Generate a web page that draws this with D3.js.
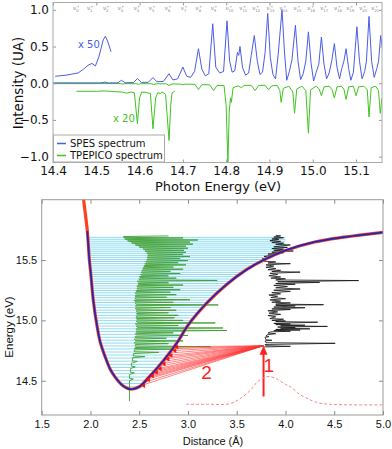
<!DOCTYPE html>
<html lang="en">
<head>
<meta charset="UTF-8">
<title>SPES / TPEPICO and potential curve</title>
<script src="https://d3js.org/d3.v7.min.js"></script>
<style>
  body { margin: 0; background: #fff; }
  svg { display: block; }
</style>
</head>
<body>
<svg id="chart" width="392" height="449"></svg>
<script>
// ---------- top panel data (photon energy eV, intensity UA) ----------
const nuLabels = ["0","1","2","3","4","5","6","7","8","9","10","11","12","13","14","15","16","17","18","19","20","21"];
const nuEnergy = [14.451,14.483,14.520,14.554,14.591,14.626,14.663,14.700,14.734,14.769,14.803,14.835,14.865,14.898,14.928,14.960,14.992,15.022,15.054,15.082,15.112,15.140];
const xTicksTop = [14.4,14.5,14.6,14.7,14.8,14.9,15.0,15.1];
const yTicksTop = [-1.0,-0.5,0.0,0.5,1.0];

// SPES x 50 segment
const spesScaled = [[14.405,0.095],[14.430,0.110],[14.458,0.140],[14.470,0.190],[14.481,0.245],[14.490,0.270],[14.498,0.235],[14.506,0.360],[14.516,0.590],[14.521,0.640],[14.527,0.560],[14.534,0.430]];
// SPES spectrum
const spesMain = [[14.400,0.005],[14.510,0.005],[14.520,0.015],[14.528,0.004],[14.550,0.006],[14.558,0.040],[14.567,0.006],[14.586,0.010],[14.595,0.064],[14.604,0.012],[14.620,0.012],[14.631,0.077],[14.640,0.020],[14.655,0.025],[14.668,0.130],[14.677,0.045],[14.688,0.060],[14.700,0.220],[14.709,0.095],[14.718,0.080],[14.727,0.160],[14.736,0.470],[14.744,0.190],[14.752,0.100],[14.760,0.130],[14.769,0.810],[14.776,0.220],[14.785,0.140],[14.794,0.160],[14.802,0.850],[14.808,0.300],[14.814,0.150],[14.820,0.170],[14.826,0.420],[14.829,0.380],[14.832,0.500],[14.838,0.210],[14.845,0.110],[14.852,0.140],[14.858,0.380],[14.865,0.650],[14.872,0.300],[14.878,0.120],[14.884,0.150],[14.890,0.420],[14.896,0.950],[14.902,0.350],[14.908,0.120],[14.914,0.060],[14.920,0.380],[14.929,1.000],[14.935,0.400],[14.940,0.040],[14.946,0.160],[14.952,0.320],[14.960,0.790],[14.966,0.300],[14.972,0.050],[14.978,0.130],[14.984,0.300],[14.990,0.700],[14.996,0.280],[15.002,0.030],[15.008,0.150],[15.014,0.260],[15.020,0.630],[15.026,0.260],[15.032,0.060],[15.038,0.140],[15.044,0.310],[15.050,0.540],[15.056,0.220],[15.062,0.060],[15.067,0.200],[15.072,0.300],[15.077,0.470],[15.083,0.200],[15.088,0.040],[15.094,0.150],[15.102,0.770],[15.108,0.300],[15.114,0.060],[15.120,0.160],[15.124,0.300],[15.130,0.910],[15.136,0.300],[15.142,0.080],[15.148,0.200],[15.152,0.300],[15.157,0.650],[15.160,0.500]];
// TPEPICO spectrum (plotted negative)
const tpeMain = [[14.400,-0.005],[14.555,-0.005],[14.560,-0.012],[14.566,-0.005],[14.592,-0.006],[14.597,-0.015],[14.603,-0.006],[14.627,-0.007],[14.633,-0.018],[14.640,-0.007],[14.662,-0.008],[14.668,-0.030],[14.675,-0.010],[14.695,-0.012],[14.700,-0.020],[14.706,-0.012],[14.728,-0.015],[14.736,-0.085],[14.744,-0.020],[14.762,-0.022],[14.771,-0.100],[14.779,-0.030],[14.795,-0.030],[14.800,-0.300],[14.804,-1.090],[14.807,-0.400],[14.810,-0.200],[14.812,-0.260],[14.816,-0.060],[14.828,-0.035],[14.835,-0.060],[14.842,-0.030],[14.858,-0.030],[14.867,-0.100],[14.875,-0.030],[14.890,-0.028],[14.898,-0.090],[14.905,-0.035],[14.918,-0.030],[14.924,-0.100],[14.927,-0.260],[14.932,-0.070],[14.945,-0.040],[14.954,-0.120],[14.958,-0.410],[14.963,-0.080],[14.975,-0.040],[14.984,-0.100],[14.990,-0.680],[14.995,-0.090],[15.008,-0.040],[15.015,-0.080],[15.020,-0.170],[15.026,-0.050],[15.038,-0.040],[15.045,-0.090],[15.050,-0.200],[15.056,-0.050],[15.066,-0.040],[15.072,-0.080],[15.077,-0.220],[15.083,-0.050],[15.094,-0.040],[15.100,-0.170],[15.106,-0.050],[15.118,-0.040],[15.126,-0.090],[15.130,-0.460],[15.135,-0.060],[15.145,-0.040],[15.152,-0.100],[15.156,-0.410],[15.160,-0.200]];
// TPEPICO x 20 segment
const tpeScaled = [[14.454,-0.110],[14.500,-0.110],[14.520,-0.105],[14.545,-0.115],[14.560,-0.120],[14.570,-0.135],[14.580,-0.120],[14.588,-0.130],[14.595,-0.550],[14.600,-0.200],[14.605,-0.120],[14.615,-0.125],[14.625,-0.140],[14.631,-0.620],[14.637,-0.200],[14.642,-0.130],[14.648,-0.140],[14.652,-0.120],[14.660,-0.150],[14.668,-0.780],[14.672,-0.300],[14.675,-0.130],[14.678,-0.120],[14.681,-0.110]];

// ---------- bottom panel data (distance A, energy eV) ----------
const xTicksBot = [1.5,2.0,2.5,3.0,3.5,4.0,4.5,5.0];
const yTicksBot = [14.5,15.0,15.5];
const potential = [[1.927,16.02],[1.945,15.90],[1.968,15.74],[1.989,15.50],[2.003,15.39],[2.030,15.16],[2.065,14.965],[2.100,14.82],[2.150,14.70],[2.200,14.60],[2.253,14.53],[2.330,14.46],[2.406,14.43],[2.500,14.45],[2.600,14.53],[2.700,14.62],[2.800,14.72],[2.900,14.83],[3.000,14.96],[3.200,15.15],[3.400,15.30],[3.600,15.42],[3.800,15.51],[4.000,15.58],[4.300,15.65],[4.600,15.69],[5.000,15.73]];
const levels = [14.450,14.477,14.504,14.531,14.558,14.584,14.610,14.636,14.662,14.688,14.713,14.738,14.763,14.788,14.812,14.836,14.860,14.884,14.907,14.930,14.953,14.976,14.998,15.020,15.042,15.064,15.085,15.106,15.127,15.148,15.168,15.188,15.208,15.228,15.248,15.267,15.286,15.305,15.324,15.343,15.362,15.380,15.398,15.416,15.434,15.452,15.470,15.488,15.505,15.522,15.539,15.556,15.573,15.590,15.607,15.624,15.640,15.656,15.672,15.688];
// green spectrum drawn sideways: [energy, distance]
const greenSide = [[14.33,2.40],[14.50,2.40],[14.515,2.44],[14.52,2.40],[14.55,2.40],[14.565,2.45],[14.57,2.41],[14.60,2.41],[14.615,2.46],[14.62,2.42],[14.645,2.42],[14.66,2.48],[14.665,2.43],[14.69,2.43],[14.70,2.56],[14.705,2.44],[14.725,2.44],[14.735,2.70],[14.74,2.45],[14.755,2.45],[14.762,2.85],[14.767,2.45],[14.775,2.46],[14.782,3.23],[14.787,2.46],[14.80,2.46],[14.807,2.80],[14.812,2.45],[14.822,2.46],[14.83,2.95],[14.835,2.46],[14.845,2.45],[14.852,2.78],[14.857,2.46],[14.868,2.46],[14.875,3.00],[14.88,2.47],[14.89,2.46],[14.897,2.85],[14.902,2.47],[14.91,2.47],[14.916,3.40],[14.921,2.47],[14.93,2.47],[14.937,3.36],[14.942,2.48],[14.952,2.47],[14.958,2.90],[14.963,2.47],[14.972,2.46],[14.979,3.28],[14.984,2.48],[14.994,2.47],[15.0,2.95],[15.005,2.48],[15.015,2.47],[15.021,2.86],[15.026,2.47],[15.036,2.47],[15.042,2.90],[15.047,2.48],[15.057,2.47],[15.063,2.80],[15.068,2.48],[15.078,2.47],[15.084,2.88],[15.089,2.47],[15.10,2.46],[15.106,2.82],[15.111,2.47],[15.122,2.46],[15.128,3.31],[15.133,2.47],[15.144,2.46],[15.15,2.85],[15.155,2.46],[15.165,2.45],[15.171,3.02],[15.176,2.46],[15.186,2.46],[15.192,2.78],[15.197,2.46],[15.207,2.46],[15.213,2.88],[15.218,2.47],[15.228,2.46],[15.234,2.82],[15.239,2.47],[15.248,2.47],[15.254,2.92],[15.259,2.48],[15.268,2.48],[15.274,2.85],[15.279,2.48],[15.287,2.48],[15.293,2.95],[15.298,2.49],[15.306,2.49],[15.312,2.80],[15.317,2.49],[15.325,2.48],[15.331,3.30],[15.336,2.50],[15.344,2.50],[15.35,2.88],[15.355,2.51],[15.363,2.50],[15.369,2.80],[15.374,2.52],[15.382,2.51],[15.388,2.92],[15.393,2.53],[15.40,2.52],[15.406,2.82],[15.411,2.53],[15.418,2.53],[15.424,2.95],[15.429,2.54],[15.436,2.54],[15.442,2.85],[15.447,2.55],[15.454,2.55],[15.46,2.98],[15.465,2.56],[15.472,2.56],[15.478,2.90],[15.483,2.57],[15.49,2.57],[15.496,3.00],[15.501,2.58],[15.507,2.58],[15.513,2.92],[15.518,2.59],[15.524,2.58],[15.53,3.02],[15.535,2.59],[15.541,2.59],[15.547,2.95],[15.552,2.58],[15.558,2.58],[15.564,2.98],[15.569,2.57],[15.575,2.56],[15.581,2.96],[15.586,2.55],[15.592,2.54],[15.598,3.00],[15.603,2.52],[15.609,2.50],[15.615,2.98],[15.62,2.48],[15.626,2.46],[15.632,3.05],[15.637,2.44],[15.643,2.42],[15.649,3.02],[15.654,2.40],[15.66,2.38],[15.666,3.10],[15.671,2.36],[15.677,2.35],[15.683,2.95],[15.688,2.34],[15.695,2.34],[15.70,2.80]];
// black spectrum drawn sideways: [energy, distance]
const blackSide = [[14.78,3.78],[14.785,4.05],[14.79,3.80],[14.80,3.79],[14.81,4.51],[14.815,3.80],[14.83,3.79],[14.835,3.86],[14.84,3.80],[14.86,3.79],[14.865,3.83],[14.87,3.80],[14.88,3.81],[14.89,3.90],[14.895,3.82],[14.905,3.85],[14.91,4.05],[14.915,3.88],[14.92,4.15],[14.925,3.90],[14.93,4.25],[14.935,3.95],[14.94,4.10],[14.945,3.92],[14.95,4.43],[14.955,3.95],[14.96,4.20],[14.965,3.90],[14.97,4.05],[14.975,3.88],[14.985,4.33],[14.99,3.90],[14.995,4.00],[15.00,3.86],[15.01,3.98],[15.015,3.84],[15.03,3.90],[15.04,3.82],[15.05,3.95],[15.06,3.83],[15.07,3.92],[15.08,3.82],[15.09,4.05],[15.095,3.86],[15.105,4.20],[15.11,3.88],[15.12,4.10],[15.125,3.90],[15.13,4.39],[15.135,3.90],[15.145,4.05],[15.15,3.86],[15.16,3.95],[15.17,3.84],[15.18,4.00],[15.19,3.85],[15.20,3.92],[15.21,3.83],[15.22,3.95],[15.23,3.86],[15.24,4.05],[15.25,3.88],[15.26,4.15],[15.27,3.90],[15.28,4.02],[15.29,3.88],[15.30,4.10],[15.305,3.90],[15.315,4.35],[15.32,3.92],[15.33,4.75],[15.335,3.90],[15.345,4.00],[15.35,3.85],[15.36,3.95],[15.37,3.83],[15.38,3.92],[15.39,3.84],[15.40,4.15],[15.405,3.86],[15.415,3.95],[15.42,3.82],[15.43,3.90],[15.44,3.80],[15.45,3.88],[15.46,3.80],[15.47,4.05],[15.475,3.82],[15.485,3.90],[15.49,3.78],[15.50,3.80],[15.51,3.76],[15.52,3.85],[15.53,3.78],[15.545,3.90],[15.55,3.82],[15.56,3.98],[15.565,3.86],[15.575,4.08],[15.58,3.88],[15.59,3.98],[15.595,3.86],[15.605,4.02],[15.61,3.88],[15.625,4.05],[15.63,3.90],[15.64,3.98],[15.645,3.86],[15.655,3.95],[15.66,3.84],[15.67,3.93],[15.675,3.86],[15.685,3.98],[15.69,3.88],[15.70,3.95],[15.705,3.90]];
const fanOrigin = [3.775,14.79];
const fanEnds = [[2.52,14.46],[2.545,14.485],[2.57,14.51],[2.59,14.525],[2.61,14.54],[2.63,14.555],[2.65,14.57],[2.67,14.585],[2.69,14.60],[2.71,14.62],[2.73,14.64],[2.75,14.66],[2.77,14.68],[2.785,14.695],[2.80,14.71],[2.82,14.73],[2.84,14.75],[2.85,14.765],[2.86,14.78]];
const arrow1 = [[3.775,14.37],[3.775,14.79]];
const gaussDash = [[2.98,14.305],[3.20,14.305],[3.43,14.31],[3.55,14.36],[3.65,14.43],[3.71,14.49],[3.78,14.525],[3.84,14.535],[3.92,14.51],[4.00,14.47],[4.05,14.45],[4.14,14.39],[4.22,14.355],[4.32,14.32],[4.45,14.305],[5.00,14.30]];

const svg = d3.select("#chart");
const blue = "#4b5ce6", green = "#3fc41e";

// ================= TOP PANEL =================
const xE = d3.scaleLinear().domain([14.4, 15.16]).range([53, 382]);
const yI = d3.scaleLinear().domain([-1.08, 1.1]).range([162.5, 2.5]);

svg.append("clipPath").attr("id", "clipTop").append("rect")
  .attr("x", 53).attr("y", 2.5).attr("width", 329).attr("height", 160);

const topG = svg.append("g").attr("font-family", "DejaVu Sans");
const plotTop = topG.append("g").attr("clip-path", "url(#clipTop)");
const lineTop = d3.line().x(d => xE(d[0])).y(d => yI(d[1]));

plotTop.append("path").datum(tpeMain).attr("d", lineTop)
  .attr("fill", "none").attr("stroke", green).attr("stroke-width", 1);
plotTop.append("path").datum(tpeScaled).attr("d", lineTop)
  .attr("fill", "none").attr("stroke", green).attr("stroke-width", 1);
plotTop.append("path").datum(spesMain).attr("d", lineTop)
  .attr("fill", "none").attr("stroke", blue).attr("stroke-width", 1);
plotTop.append("path").datum(spesScaled).attr("d", lineTop)
  .attr("fill", "none").attr("stroke", blue).attr("stroke-width", 1);

topG.append("text").attr("x", 78).attr("y", 48).attr("font-size", 10)
  .attr("fill", blue).text("x 50");
topG.append("text").attr("x", 113).attr("y", 122).attr("font-size", 10)
  .attr("fill", green).text("x 20");

// nu labels along the top
const nu = topG.selectAll("text.nu").data(nuLabels).join("text")
  .attr("class", "nu")
  .attr("x", (d, i) => xE(nuEnergy[i]) - 2)
  .attr("y", 10).attr("font-size", 5.5).attr("fill", "#888");
nu.append("tspan").text("ν");
nu.append("tspan").attr("font-size", 3.8).attr("dy", 1.5).text(d => d);
nu.append("tspan").attr("font-size", 3.8).attr("dy", -4).attr("dx", d => d.length > 1 ? -4.2 : -2.1).text("+");

// axes
const fmt = d3.format(".1f");
topG.append("g").attr("transform", "translate(0,162.5)")
  .call(d3.axisBottom(xE).tickValues(xTicksTop).tickSize(-3).tickPadding(4).tickFormat(fmt))
  .call(g => g.select(".domain").remove())
  .call(g => g.selectAll("line").attr("stroke", "#999"))
  .call(g => g.selectAll("text").attr("font-size", 12).attr("font-family", "DejaVu Sans").attr("fill", "#111"));
topG.append("g").attr("transform", "translate(0,2.5)")
  .call(d3.axisTop(xE).tickValues(xTicksTop).tickSize(-3).tickFormat(""))
  .call(g => g.select(".domain").remove())
  .call(g => g.selectAll("line").attr("stroke", "#999"));
topG.append("g").attr("transform", "translate(53,0)")
  .call(d3.axisLeft(yI).tickValues(yTicksTop).tickSize(-3).tickPadding(4).tickFormat(fmt))
  .call(g => g.select(".domain").remove())
  .call(g => g.selectAll("line").attr("stroke", "#999"))
  .call(g => g.selectAll("text").attr("font-size", 12).attr("font-family", "DejaVu Sans").attr("fill", "#111"));
topG.append("g").attr("transform", "translate(382,0)")
  .call(d3.axisRight(yI).tickValues(yTicksTop).tickSize(-3).tickFormat(""))
  .call(g => g.select(".domain").remove())
  .call(g => g.selectAll("line").attr("stroke", "#999"));
topG.append("rect").attr("x", 53).attr("y", 2.5).attr("width", 329).attr("height", 160)
  .attr("fill", "none").attr("stroke", "#aaa").attr("stroke-width", 1);

topG.append("text").attr("transform", "translate(18,83) rotate(-90)")
  .attr("text-anchor", "middle").attr("dy", "0.35em").attr("font-size", 13.5).attr("fill", "#111")
  .text("Intensity (UA)");
topG.append("text").attr("x", 218).attr("y", 191)
  .attr("text-anchor", "middle").attr("font-size", 13).attr("fill", "#111")
  .text("Photon Energy (eV)");

// legend
const leg = topG.append("g");
leg.append("rect").attr("x", 53.5).attr("y", 135).attr("width", 111).attr("height", 27)
  .attr("fill", "#fff").attr("stroke", "#aaa");
[["SPES spectrum", blue], ["TPEPICO spectrum", green]].forEach((d, i) => {
  leg.append("line").attr("x1", 57).attr("x2", 66).attr("y1", 143.5 + i * 12).attr("y2", 143.5 + i * 12)
    .attr("stroke", d[1]).attr("stroke-width", 1.5);
  leg.append("text").attr("x", 70).attr("y", 147 + i * 12).attr("font-size", 10).attr("fill", "#111").text(d[0]);
});

// ================= BOTTOM PANEL =================
const xR = d3.scaleLinear().domain([1.5, 5.0]).range([41.7, 383]);
const yE = d3.scaleLinear().domain([14.216, 16.0]).range([415, 199.7]);

svg.append("clipPath").attr("id", "clipBot").append("rect")
  .attr("x", 41.7).attr("y", 199.7).attr("width", 341.3).attr("height", 215.3);

const botG = svg.append("g").attr("font-family", "Liberation Sans, Arial, sans-serif");
const plotBot = botG.append("g").attr("clip-path", "url(#clipBot)");

// crossing of a level with one branch of the potential
function crossing(E, branch) {
  for (let i = 0; i < branch.length - 1; i++) {
    const a = branch[i], b = branch[i + 1];
    if ((E - a[1]) * (E - b[1]) <= 0 && a[1] !== b[1]) {
      return a[0] + (E - a[1]) / (b[1] - a[1]) * (b[0] - a[0]);
    }
  }
  return null;
}
const leftWall = potential.filter(d => d[0] <= 2.406);
const rightWall = potential.filter(d => d[0] >= 2.406);

plotBot.append("g").selectAll("line").data(levels).join("line")
  .attr("x1", d => xR(crossing(d, leftWall)))
  .attr("x2", d => xR(Math.min(crossing(d, rightWall) ?? 4.0, 4.0)))
  .attr("y1", d => yE(d)).attr("y2", d => yE(d))
  .attr("stroke", "#8edcf2").attr("stroke-width", 1);

const sideLine = d3.line().x(d => xR(d[1])).y(d => yE(d[0]));
plotBot.append("path").datum(greenSide).attr("d", sideLine)
  .attr("fill", "none").attr("stroke", "#3f9f2f").attr("stroke-width", 0.9);
plotBot.append("path").datum(blackSide).attr("d", sideLine)
  .attr("fill", "none").attr("stroke", "#111").attr("stroke-width", 0.8);

// Franck-Condon fan
plotBot.append("g").selectAll("line").data(fanEnds).join("line")
  .attr("x1", xR(fanOrigin[0])).attr("y1", yE(fanOrigin[1]))
  .attr("x2", d => xR(d[0])).attr("y2", d => yE(d[1]))
  .attr("stroke", "#ff3030").attr("stroke-width", 0.6);

// potential curve
const potLine = d3.line().x(d => xR(d[0])).y(d => yE(d[1])).curve(d3.curveCatmullRom);
plotBot.append("path").datum(potential).attr("d", potLine)
  .attr("fill", "none").attr("stroke", "#ff4020").attr("stroke-width", 3.2);
plotBot.append("path").datum(potential.filter(d => d[0] >= 1.968)).attr("d", potLine)
  .attr("fill", "none").attr("stroke", "#1428c0").attr("stroke-width", 1.7);

plotBot.append("g").selectAll("path").data(fanEnds.filter((d, i) => i % 2 === 0)).join("path")
  .attr("d", d3.symbol(d3.symbolTriangle, 10))
  .attr("transform", d => `translate(${xR(d[0]) + 2.5},${yE(d[1])}) rotate(-90)`)
  .attr("fill", "#ff1010");

// arrow 1
plotBot.append("line")
  .attr("x1", xR(arrow1[0][0])).attr("y1", yE(arrow1[0][1]))
  .attr("x2", xR(arrow1[1][0])).attr("y2", yE(arrow1[1][1]) + 6)
  .attr("stroke", "#ff2020").attr("stroke-width", 2);
plotBot.append("path")
  .attr("d", `M${xR(arrow1[1][0])},${yE(arrow1[1][1])} l-4,9 l8,0 z`)
  .attr("fill", "#ff2020");

plotBot.append("path").datum(gaussDash).attr("d", potLine)
  .attr("fill", "none").attr("stroke", "#f28a8a").attr("stroke-width", 1)
  .attr("stroke-dasharray", "3,2");

botG.append("text").attr("x", xR(3.83)).attr("y", yE(14.575)).attr("text-anchor", "middle")
  .attr("font-size", 19).attr("fill", "#ff2020").text("1");
botG.append("text").attr("x", xR(3.19)).attr("y", yE(14.515)).attr("text-anchor", "middle")
  .attr("font-size", 19).attr("fill", "#ff2020").text("2");

// axes
botG.append("g").attr("transform", "translate(0,415)")
  .call(d3.axisBottom(xR).tickValues(xTicksBot).tickSize(-4).tickPadding(5).tickFormat(fmt))
  .call(g => g.select(".domain").remove())
  .call(g => g.selectAll("line").attr("stroke", "#888"))
  .call(g => g.selectAll("text").attr("font-size", 11).attr("font-family", "Liberation Sans, Arial, sans-serif").attr("fill", "#111"));
botG.append("g").attr("transform", "translate(0,199.7)")
  .call(d3.axisTop(xR).tickValues(xTicksBot).tickSize(-4).tickFormat(""))
  .call(g => g.select(".domain").remove())
  .call(g => g.selectAll("line").attr("stroke", "#888"));
botG.append("g").attr("transform", "translate(41.7,0)")
  .call(d3.axisLeft(yE).tickValues(yTicksBot).tickSize(-4).tickPadding(4.5).tickFormat(fmt))
  .call(g => g.select(".domain").remove())
  .call(g => g.selectAll("line").attr("stroke", "#888"))
  .call(g => g.selectAll("text").attr("font-size", 11).attr("font-family", "Liberation Sans, Arial, sans-serif").attr("fill", "#111"));
botG.append("g").attr("transform", "translate(383,0)")
  .call(d3.axisRight(yE).tickValues(yTicksBot).tickSize(-4).tickFormat(""))
  .call(g => g.select(".domain").remove())
  .call(g => g.selectAll("line").attr("stroke", "#888"));
botG.append("rect").attr("x", 41.7).attr("y", 199.7).attr("width", 341.3).attr("height", 215.3)
  .attr("fill", "none").attr("stroke", "#999").attr("stroke-width", 1);

botG.append("text").attr("transform", "translate(9,327) rotate(-90)")
  .attr("text-anchor", "middle").attr("dy", "0.35em").attr("font-size", 11.5).attr("fill", "#111")
  .text("Energy (eV)");
botG.append("text").attr("x", 213).attr("y", 445)
  .attr("text-anchor", "middle").attr("font-size", 11).attr("fill", "#111")
  .text("Distance (Å)");
</script>
</body>
</html>
